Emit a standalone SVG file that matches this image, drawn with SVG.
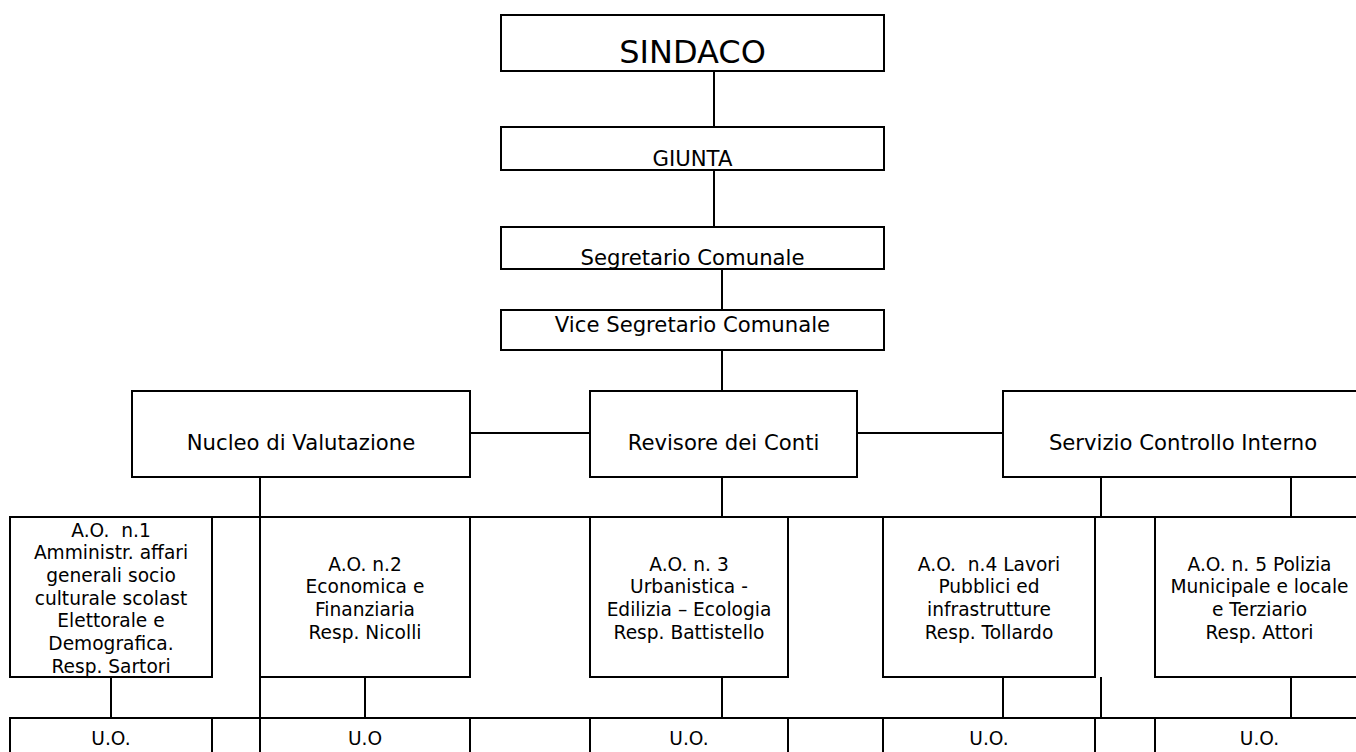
<svg xmlns="http://www.w3.org/2000/svg" width="1356" height="752" viewBox="0 0 1356 752">
<style>
.box{fill:#fff;stroke:#000;stroke-width:2}
.ln{stroke:#000;stroke-width:2;fill:none}
text{font-family:"DejaVu Sans","Verdana",sans-serif;fill:#000;text-anchor:middle}
.big{font-size:32px}
.m{font-size:21.2px}
.s{font-size:18.6px}
</style>
<rect width="1356" height="752" fill="#fff"/>
<g id="connectors">
<line class="ln" x1="714" y1="71" x2="714" y2="127"/>
<line class="ln" x1="714" y1="170" x2="714" y2="227"/>
<line class="ln" x1="722" y1="269" x2="722" y2="310"/>
<line class="ln" x1="722" y1="350" x2="722" y2="391"/>
<line class="ln" x1="470" y1="433" x2="590" y2="433"/>
<line class="ln" x1="857" y1="433" x2="1003" y2="433"/>
<line class="ln" x1="260" y1="477" x2="260" y2="760"/>
<line class="ln" x1="722" y1="477" x2="722" y2="517"/>
<line class="ln" x1="1101" y1="477" x2="1101" y2="517"/>
<line class="ln" x1="1291" y1="477" x2="1291" y2="517"/>
<line class="ln" x1="9" y1="517" x2="1360" y2="517"/>
<line class="ln" x1="111" y1="677" x2="111" y2="718"/>
<line class="ln" x1="365" y1="677" x2="365" y2="718"/>
<line class="ln" x1="722" y1="677" x2="722" y2="718"/>
<line class="ln" x1="1003" y1="677" x2="1003" y2="718"/>
<line class="ln" x1="1101" y1="677" x2="1101" y2="718"/>
<line class="ln" x1="1291" y1="677" x2="1291" y2="718"/>
<line class="ln" x1="9" y1="718" x2="1360" y2="718"/>
</g>
<g id="sindaco"><rect class="box" x="501" y="15" width="383" height="56"/><text class="big" x="692.5" y="63.3">SINDACO</text></g>
<g id="giunta"><rect class="box" x="501" y="127" width="383" height="43"/><text class="m" x="692.5" y="165.7">GIUNTA</text></g>
<g id="segretario"><rect class="box" x="501" y="227" width="383" height="42"/><text class="m" x="692.5" y="265">Segretario Comunale</text></g>
<g id="vice"><rect class="box" x="501" y="310" width="383" height="40"/><text class="m" x="692.5" y="332.3">Vice Segretario Comunale</text></g>
<g id="nucleo"><rect class="box" x="132" y="391" width="338" height="86"/><text class="m" x="301" y="450">Nucleo di Valutazione</text></g>
<g id="revisore"><rect class="box" x="590" y="391" width="267" height="86"/><text class="m" x="723.5" y="450">Revisore dei Conti</text></g>
<g id="servizio"><rect class="box" x="1003" y="391" width="362" height="86"/><text class="m" x="1183" y="450">Servizio Controllo Interno</text></g>
<g id="ao1"><rect class="box" x="10" y="517" width="202" height="160"/>
<text class="s" x="111" y="536.5">A.O.&#160; n.1</text>
<text class="s" x="111" y="559.2">Amministr. affari</text>
<text class="s" x="111" y="581.9">generali socio</text>
<text class="s" x="111" y="604.6">culturale scolast</text>
<text class="s" x="111" y="627.3">Elettorale e</text>
<text class="s" x="111" y="650">Demografica.</text>
<text class="s" x="111" y="672.7">Resp. Sartori</text></g>
<g id="ao2"><rect class="box" x="260" y="517" width="210" height="160"/>
<text class="s" x="365" y="570.7">A.O. n.2</text>
<text class="s" x="365" y="593.3">Economica e</text>
<text class="s" x="365" y="615.9">Finanziaria</text>
<text class="s" x="365" y="638.5">Resp. Nicolli</text></g>
<g id="ao3"><rect class="box" x="590" y="517" width="198" height="160"/>
<text class="s" x="689" y="570.7">A.O. n. 3</text>
<text class="s" x="689" y="593.3">Urbanistica -</text>
<text class="s" x="689" y="615.9">Edilizia – Ecologia</text>
<text class="s" x="689" y="638.5">Resp. Battistello</text></g>
<g id="ao4"><rect class="box" x="883" y="517" width="212" height="160"/>
<text class="s" x="989" y="570.7">A.O.&#160; n.4 Lavori</text>
<text class="s" x="989" y="593.3">Pubblici ed</text>
<text class="s" x="989" y="615.9">infrastrutture</text>
<text class="s" x="989" y="638.5">Resp. Tollardo</text></g>
<g id="ao5"><rect class="box" x="1155" y="517" width="209" height="160"/>
<text class="s" x="1259.5" y="570.7">A.O. n. 5 Polizia</text>
<text class="s" x="1259.5" y="593.3">Municipale e locale</text>
<text class="s" x="1259.5" y="615.9">e Terziario</text>
<text class="s" x="1259.5" y="638.5">Resp. Attori</text></g>
<g id="uo1"><rect class="box" x="10" y="718" width="202" height="60"/><text class="s" x="111" y="745">U.O.</text></g>
<g id="uo2"><rect class="box" x="260" y="718" width="210" height="60"/><text class="s" x="365" y="745">U.O</text></g>
<g id="uo3"><rect class="box" x="590" y="718" width="198" height="60"/><text class="s" x="689" y="745">U.O.</text></g>
<g id="uo4"><rect class="box" x="883" y="718" width="212" height="60"/><text class="s" x="989" y="745">U.O.</text></g>
<g id="uo5"><rect class="box" x="1155" y="718" width="209" height="60"/><text class="s" x="1259.5" y="745">U.O.</text></g>
</svg>
